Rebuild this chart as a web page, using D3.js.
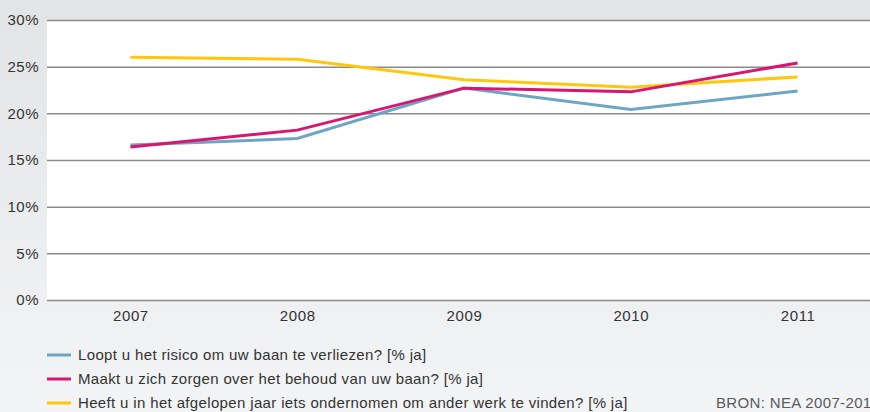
<!DOCTYPE html>
<html lang="nl">
<head>
  <meta charset="UTF-8">
  <title>Baanonzekerheid 2007-2011</title>
  <script src="https://d3js.org/d3.v7.min.js"></script>
  <style>
    body { margin: 0; padding: 0; overflow: hidden; }
    svg { display: block; font-family: 'Liberation Sans', Arial, sans-serif; }
  </style>
</head>
<body>
  <script>
    // data
    var years = ["2007", "2008", "2009", "2010", "2011"];
    var risico = [16.6, 17.3, 22.7, 20.4, 22.4];
    var zorgen = [16.4, 18.2, 22.7, 22.3, 25.4];
    var ondernomen = [26.0, 25.8, 23.6, 22.8, 23.9];
    var yTicks = [0, 5, 10, 15, 20, 25, 30];
    var seriesNames = [
      "Loopt u het risico om uw baan te verliezen? [% ja]",
      "Maakt u zich zorgen over het behoud van uw baan? [% ja]",
      "Heeft u in het afgelopen jaar iets ondernomen om ander werk te vinden? [% ja]"
    ];
    var seriesColors = ["#6ea5c4", "#d8156f", "#ffc60b"];
    var source = "BRON: NEA 2007-2011";

    var W = 870, H = 412;
    var plot = { left: 47, top: 20, bottom: 300, right: 881 };

    var svg = d3.select("body").append("svg")
        .attr("width", W)
        .attr("height", H);

    // background gradient
    var defs = svg.append("defs");
    var bg = defs.append("linearGradient")
        .attr("id", "bg")
        .attr("x1", 0).attr("y1", 0).attr("x2", 0).attr("y2", 1);
    bg.append("stop").attr("offset", "0%").attr("stop-color", "#e3e4e6");
    bg.append("stop").attr("offset", "100%").attr("stop-color", "#f3f4f5");

    svg.append("rect")
        .attr("width", W).attr("height", H)
        .attr("fill", "url(#bg)");

    var x = d3.scalePoint()
        .domain(years)
        .range([plot.left, plot.right])
        .padding(0.5);

    var y = d3.scaleLinear()
        .domain([0, 30])
        .range([plot.bottom, plot.top]);

    // white plot area
    svg.append("rect")
        .attr("x", plot.left).attr("y", plot.top)
        .attr("width", plot.right - plot.left)
        .attr("height", plot.bottom - plot.top)
        .attr("fill", "#fff");

    // gridlines + y labels
    var yAxis = d3.axisLeft(y)
        .tickValues(yTicks)
        .tickSize(-(plot.right - plot.left))
        .tickPadding(9)
        .tickFormat(function(d) { return d + "%"; });

    var gy = svg.append("g")
        .attr("transform", "translate(" + plot.left + ",0)")
        .call(yAxis);
    gy.select(".domain").remove();
    gy.selectAll(".tick line")
        .attr("stroke", "#8a8a8a")
        .attr("stroke-width", 1.5);
    gy.selectAll(".tick text")
        .attr("fill", "#333")
        .attr("font-size", 15)
        .attr("letter-spacing", 0.5)
        .attr("x", -8);

    // x labels
    var xAxis = d3.axisBottom(x).tickSize(0).tickPadding(10);
    var gx = svg.append("g")
        .attr("transform", "translate(0," + plot.bottom + ")")
        .call(xAxis);
    gx.select(".domain").remove();
    gx.selectAll(".tick text")
        .attr("fill", "#333")
        .attr("font-size", 15)
        .attr("letter-spacing", 0.6);

    // lines
    var allSeries = [risico, zorgen, ondernomen];
    var line = d3.line()
        .x(function(d, i) { return x(years[i]); })
        .y(function(d) { return y(d); });

    // yellow drawn first, blue below magenta
    [2, 0, 1].forEach(function(k) {
      svg.append("path")
          .datum(allSeries[k])
          .attr("d", line)
          .attr("fill", "none")
          .attr("stroke", seriesColors[k])
          .attr("stroke-width", 3);
    });

    // legend
    var legend = svg.append("g").attr("transform", "translate(47,355)");
    seriesNames.forEach(function(name, i) {
      var row = legend.append("g").attr("transform", "translate(0," + (i * 24) + ")");
      row.append("line")
          .attr("x1", 0).attr("x2", 24)
          .attr("stroke", seriesColors[i])
          .attr("stroke-width", 3);
      row.append("text")
          .attr("x", 31)
          .attr("dy", "0.35em")
          .attr("fill", "#333")
          .attr("font-size", 15)
          .attr("letter-spacing", 0.35)
          .text(name);
    });

    svg.append("text")
        .attr("x", 716)
        .attr("y", 403)
        .attr("dy", "0.35em")
        .attr("fill", "#5a5a5a")
        .attr("font-size", 15)
        .attr("letter-spacing", 0.35)
        .text(source);
  </script>
</body>
</html>
